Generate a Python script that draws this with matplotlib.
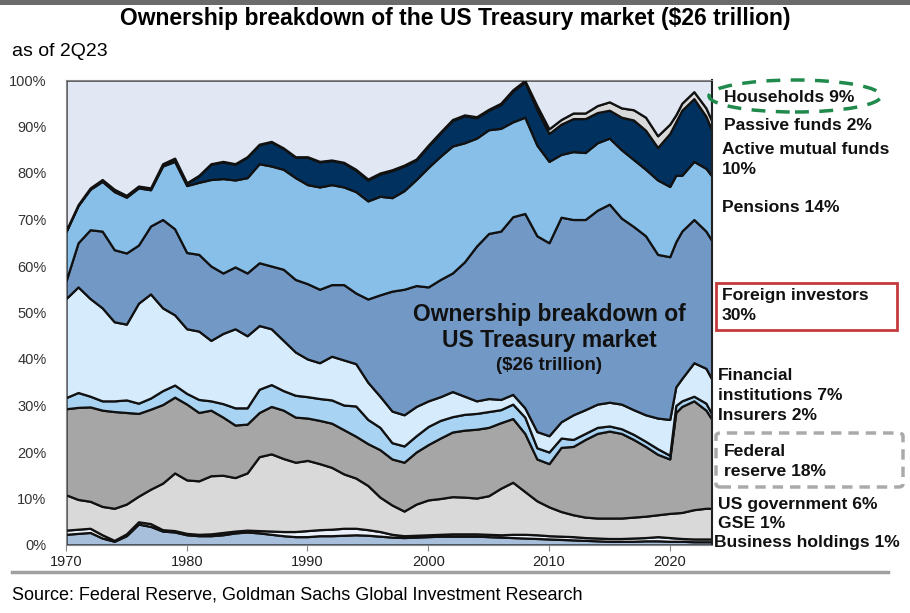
import numpy as np
import matplotlib
matplotlib.use("Agg")
import matplotlib.pyplot as plt
from matplotlib.patches import Ellipse, FancyBboxPatch, Rectangle

# Share of marketable Treasuries by holder (%)
years = [1970, 1971, 1972, 1973, 1974, 1975, 1976, 1977, 1978, 1979,
         1980, 1981, 1982, 1983, 1984, 1985, 1986, 1987, 1988, 1989,
         1990, 1991, 1992, 1993, 1994, 1995, 1996, 1997, 1998, 1999,
         2000, 2001, 2002, 2003, 2004, 2005, 2006, 2007, 2008, 2009,
         2010, 2011, 2012, 2013, 2014, 2015, 2016, 2017, 2018, 2019,
         2020, 2020.5, 2021, 2022, 2023, 2023.5]

business = [2.3, 2.5, 2.7, 1.5, 0.8, 2.0, 4.5, 4.0, 3.0, 2.8,
            2.2, 2.0, 2.0, 2.2, 2.6, 2.8, 2.6, 2.3, 2.0, 1.8,
            1.8, 2.0, 2.0, 2.1, 2.2, 2.1, 1.9, 1.7, 1.6, 1.7,
            1.8, 1.9, 1.9, 1.9, 1.9, 1.8, 1.7, 1.6, 1.5, 1.4,
            1.3, 1.2, 1.1, 1.0, 0.9, 0.8, 0.8, 0.8, 0.9, 0.9,
            0.8, 0.8, 0.8, 0.7, 0.7, 0.7]
gse = [0.9, 0.9, 0.9, 0.7, 0.2, 0.4, 0.5, 0.6, 0.3, 0.3,
       0.3, 0.3, 0.4, 0.5, 0.4, 0.4, 0.5, 0.7, 0.9, 1.1,
       1.3, 1.3, 1.4, 1.5, 1.4, 1.2, 1.0, 0.6, 0.4, 0.4,
       0.4, 0.4, 0.5, 0.5, 0.5, 0.5, 0.5, 0.7, 0.8, 0.8,
       0.7, 0.7, 0.7, 0.6, 0.6, 0.6, 0.6, 0.7, 0.7, 0.9,
       0.8, 0.7, 0.6, 0.6, 0.6, 0.6]
us_gov = [7.6, 6.4, 5.8, 6.1, 6.9, 6.4, 5.5, 7.4, 10.0, 12.4,
          11.5, 11.5, 12.5, 12.3, 11.5, 12.3, 15.9, 16.6, 15.7, 14.9,
          15.1, 14.2, 13.3, 11.7, 10.8, 9.5, 7.4, 6.3, 5.3, 6.7,
          7.5, 7.7, 8.0, 7.9, 7.7, 8.3, 10.0, 11.2, 9.2, 7.3,
          6.2, 5.3, 4.7, 4.4, 4.3, 4.4, 4.4, 4.5, 4.6, 4.7,
          5.2, 5.4, 5.6, 6.3, 6.6, 6.6]
fed = [18.5, 19.8, 20.3, 20.7, 20.8, 19.7, 17.8, 17.2, 16.9, 16.3,
       16.3, 14.7, 14.1, 12.5, 11.3, 10.5, 9.5, 10.2, 10.4, 9.7,
       9.1, 9.3, 9.5, 9.5, 9.0, 9.0, 10.2, 9.9, 10.5, 11.2,
       11.9, 13.0, 13.9, 14.4, 14.8, 14.7, 14.1, 13.7, 12.5, 9.0,
       9.3, 13.8, 14.7, 16.7, 18.2, 18.7, 18.2, 16.7, 15.0, 13.0,
       11.7, 21.6, 22.8, 23.4, 21.1, 19.1]
insurers = [2.4, 3.2, 2.3, 2.0, 2.3, 2.7, 2.2, 2.4, 3.0, 2.6,
            2.3, 2.8, 2.0, 2.9, 3.7, 3.5, 5.0, 4.7, 4.2, 4.7,
            4.6, 4.7, 5.0, 5.3, 6.5, 5.2, 4.8, 3.5, 3.5, 3.5,
            3.9, 3.8, 3.3, 3.4, 3.4, 3.4, 2.8, 3.1, 3.5, 2.4,
            2.5, 2.0, 1.5, 1.3, 1.3, 1.1, 1.0, 1.1, 1.1, 1.2,
            0.8, 1.5, 1.2, 1.0, 1.5, 1.1]
financial = [21.3, 22.7, 21.0, 20.0, 17.0, 16.3, 21.5, 22.4, 17.8, 15.1,
             13.9, 14.7, 13.0, 15.1, 17.0, 15.5, 13.7, 12.0, 10.8, 9.3,
             8.1, 7.7, 9.4, 9.7, 9.1, 8.0, 6.7, 6.8, 6.7, 6.3,
             5.5, 5.1, 5.4, 3.9, 2.7, 2.8, 2.2, 2.1, 2.0, 3.5,
             3.5, 3.5, 5.3, 5.1, 5.0, 5.1, 5.3, 5.3, 5.7, 6.6,
             7.7, 4.0, 4.8, 7.2, 7.5, 7.5]
foreign = [3.8, 9.5, 14.8, 16.5, 15.5, 15.3, 12.5, 14.6, 19.0, 18.5,
           16.4, 16.5, 16.0, 13.0, 13.3, 13.5, 13.5, 13.5, 15.3, 15.6,
           16.2, 15.8, 15.4, 16.2, 15.2, 17.9, 21.8, 25.8, 27.0, 26.0,
           24.5, 25.2, 25.5, 28.9, 33.3, 35.5, 36.2, 38.2, 41.8, 42.1,
           41.5, 44.0, 42.0, 40.9, 41.7, 42.6, 40.0, 39.4, 38.5, 35.2,
           35.0, 31.2, 31.7, 30.8, 29.5, 29.8]
pensions = [10.6, 8.0, 8.7, 10.7, 12.5, 12.0, 12.3, 7.8, 11.5, 14.5,
            14.4, 15.5, 18.6, 20.3, 18.7, 20.5, 21.3, 21.5, 21.5, 21.9,
            21.3, 22.0, 21.5, 21.0, 21.8, 21.1, 21.2, 20.1, 21.2, 22.8,
            25.7, 26.5, 27.3, 25.6, 23.2, 22.3, 22.1, 20.4, 20.7, 19.5,
            17.5, 13.5, 14.6, 14.4, 14.5, 14.2, 14.7, 14.4, 14.3, 16.0,
            15.1, 14.3, 12.0, 12.5, 13.5, 13.9]
active_funds = [0.1, 0.1, 0.2, 0.3, 0.4, 0.3, 0.3, 0.3, 0.4, 0.6,
                0.5, 1.4, 3.3, 3.6, 3.4, 4.4, 4.1, 5.2, 4.5, 4.4,
                5.9, 5.4, 5.2, 5.2, 4.6, 4.5, 4.8, 5.8, 5.3, 4.2,
                4.6, 5.0, 5.5, 5.8, 4.4, 4.2, 5.1, 6.6, 7.6, 7.7,
                6.0, 6.5, 7.1, 7.3, 6.5, 6.0, 7.0, 8.5, 8.4, 7.0,
                11.4, 11.5, 14.0, 13.5, 11.2, 9.8]
passive_funds = [0.1, 0.1, 0.1, 0.1, 0.1, 0.1, 0.1, 0.1, 0.1, 0.1,
                 0.1, 0.1, 0.1, 0.1, 0.1, 0.1, 0.1, 0.1, 0.1, 0.1,
                 0.1, 0.1, 0.1, 0.1, 0.2, 0.2, 0.2, 0.2, 0.2, 0.2,
                 0.2, 0.2, 0.2, 0.2, 0.2, 0.2, 0.3, 0.3, 0.3, 0.8,
                 1.0, 1.0, 1.2, 1.2, 1.5, 1.8, 2.0, 2.2, 2.8, 2.5,
                 2.0, 1.5, 1.5, 1.5, 1.8, 2.0]
households = [32.4, 26.8, 23.2, 21.4, 23.5, 24.8, 22.8, 23.2, 18.0, 16.8,
              22.1, 20.5, 18.0, 17.5, 18.0, 16.5, 13.8, 13.2, 14.6, 16.5,
              16.5, 17.5, 17.2, 17.7, 19.2, 21.3, 20.0, 19.3, 18.3, 17.0,
              14.0, 11.2, 8.5, 7.5, 7.9, 6.3, 5.0, 2.1, 0.1, 5.5,
              10.5, 8.5, 7.1, 7.1, 5.5, 4.7, 6.0, 6.4, 8.0, 12.0,
              9.5, 7.5, 5.0, 2.5, 6.0, 8.9]

layer_colors = ["#a8bfdc", "#eaf1fa", "#d9d9d9", "#a6a6a6", "#a9d3f2",
                "#d6ebfc", "#7299c6", "#87bfe8", "#00315f", "#d9d9d9",
                "#e1e8f3"]

W, H = 910, 613
arial = ["Liberation Sans", "DejaVu Sans"]


def fx(x):
    return x / W


def fy(y):
    return 1 - y / H


fig = plt.figure(figsize=(W / 100, H / 100), dpi=100)
ax = fig.add_axes([fx(66), fy(545), fx(712) - fx(66), fy(80) - fy(545)])

ax.stackplot(years, business, gse, us_gov, fed, insurers, financial,
             foreign, pensions, active_funds, passive_funds, households,
             colors=layer_colors, edgecolor="#111111", linewidth=1.6)

ax.set_xlim(1970, 2023.5)
ax.set_ylim(0, 100)
ax.set_xticks([1970, 1980, 1990, 2000, 2010, 2020])
ax.set_yticks(range(0, 101, 10))
ax.set_yticklabels([f"{v}%" for v in range(0, 101, 10)])
ax.tick_params(axis="x", length=4, color="#888888", labelsize=10.5,
               labelcolor="#222222", pad=3)
ax.tick_params(axis="y", length=0, labelsize=10.5, labelcolor="#333333", pad=14)
for lab in ax.get_xticklabels() + ax.get_yticklabels():
    lab.set_family(arial)
for side in ["left", "top", "bottom"]:
    ax.spines[side].set_color("#888888")
ax.spines["right"].set_color("#222222")
ax.spines["right"].set_linewidth(1.5)

# header and footer
fig.add_artist(Rectangle((0, fy(5)), 1, fy(0) - fy(5), transform=fig.transFigure,
                         color="#6b6b6b", lw=0))
fig.add_artist(plt.Line2D([fx(12), fx(888)], [fy(572), fy(572)],
                          transform=fig.transFigure, color="#a0a0a0", lw=2.5))
fig.text(0.5, fy(19), "Ownership breakdown of the US Treasury market ($26 trillion)",
         ha="center", va="center", fontsize=16.5, fontweight="bold", family=arial)
fig.text(fx(12), fy(51), "as of 2Q23", ha="left", va="center",
         fontsize=14, family=arial)
fig.text(fx(12), fy(595), "Source: Federal Reserve, Goldman Sachs Global Investment Research",
         ha="left", va="center", fontsize=13, family=arial)

# centre annotation
fig.text(fx(549), fy(315), "Ownership breakdown of", ha="center", va="center",
         fontsize=16.5, fontweight="bold", family=arial, color="#111111")
fig.text(fx(549), fy(341), "US Treasury market", ha="center", va="center",
         fontsize=16.5, fontweight="bold", family=arial, color="#111111")
fig.text(fx(549), fy(366), "($26 trillion)", ha="center", va="center",
         fontsize=13.5, fontweight="bold", family=arial, color="#111111")

# right-hand labels
right_labels = [
    (724, 97, "Households 9%"),
    (724, 125, "Passive funds 2%"),
    (722, 149, "Active mutual funds"),
    (722, 169, "10%"),
    (722, 207, "Pensions 14%"),
    (722, 295, "Foreign investors"),
    (722, 316, "30%"),
    (718, 375, "Financial"),
    (718, 395, "institutions 7%"),
    (718, 415, "Insurers 2%"),
    (724, 452, "Federal"),
    (724, 472, "reserve 18%"),
    (718, 505, "US government 6%"),
    (718, 523, "GSE 1%"),
    (714, 543, "Business holdings 1%"),
]
for x, y, s in right_labels:
    fig.text(fx(x), fy(y), s, ha="left", va="center", fontsize=12.6,
             fontweight="bold", family=arial, color="#111111")

fig.add_artist(Ellipse((fx(795), fy(96)), fx(172), 32 / H, transform=fig.transFigure,
                       fill=False, edgecolor="#1f8a4c", lw=2.5, ls=(0, (4, 3))))
fig.add_artist(Rectangle((fx(716), fy(330)), fx(181), 47 / H, transform=fig.transFigure,
                         fill=False, edgecolor="#c43a3c", lw=2))
fig.add_artist(FancyBboxPatch((fx(716), fy(487)), fx(187), 54 / H,
                              boxstyle="round,pad=0,rounding_size=0.005",
                              transform=fig.transFigure, fill=False,
                              edgecolor="#aaaaaa", lw=2.5, ls=(0, (3, 2))))

fig.savefig("out.png", dpi=100)
